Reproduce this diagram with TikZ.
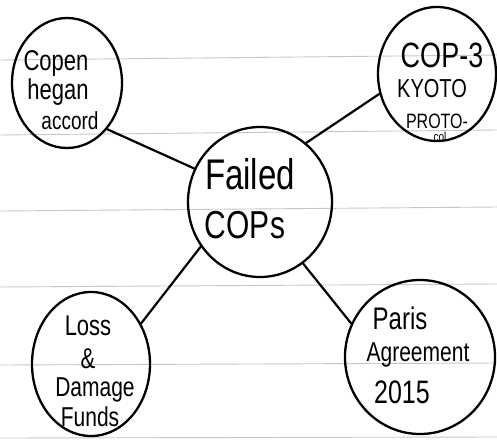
\documentclass[tikz,border=0pt]{standalone}
\usepackage{fontspec}
\setmainfont{Liberation Sans}
\usetikzlibrary{shapes.geometric}
\tikzset{
  bubble/.style={draw=black, line width=2.3pt, ellipse, inner sep=0pt},
  link/.style={draw=black, line width=2.2pt, line cap=round},
  rule/.style={draw=black!22, line width=0.9pt},
  hand/.style={inner sep=0pt, text=black},
}
\newcommand{\tall}[2]{\fontsize{#1}{#1}\selectfont\scalebox{1}[1.3]{#2}}
\begin{document}
\begin{tikzpicture}[x=1pt,y=-1pt]
\useasboundingbox[fill=white] (0,0) rectangle (497,439);
% ruled paper
\draw[rule] (0,60) -- (497,55);
\draw[rule] (0,135) -- (497,130);
\draw[rule] (0,211) -- (497,207);
\draw[rule] (0,287) -- (497,284);
\draw[rule] (0,365) -- (497,363);
\draw[rule] (0,438) -- (497,437);
% bubbles
\node[bubble, minimum width=110pt, minimum height=130pt] (cph) at (67,83) {};
\node[bubble, minimum width=118pt, minimum height=134pt] (kyoto) at (437,74) {};
\node[bubble, minimum width=144pt, minimum height=150pt] (cops) at (260,202) {};
\node[bubble, minimum width=118pt, minimum height=144pt] (loss) at (91,364) {};
\node[bubble, minimum width=150pt, minimum height=154pt] (paris) at (420,357) {};
% connectors
\draw[link] (cph.-49) -- (cops.153);
\draw[link] (kyoto.-161) -- (cops.52);
\draw[link] (loss.39) -- (cops.217);
\draw[link] (paris.154) -- (cops.-55);
% texts
\node[hand] (t1) at (56,63) {\tall{22}{Copen}};
\node[hand] (t2) at (58,92) {\tall{22}{hegan}};
\node[hand] (t3) at (70,121) {\tall{19}{accord}};
\node[hand] (t4) at (442,55) {\tall{27}{COP-3}};
\node[hand] (t5) at (432,89) {\tall{20}{KYOTO}};
\node[hand] (t6) at (437,121) {\tall{16}{PROTO-}};
\node[hand] (t7) at (440,137) {\tall{10}{col}};
\node[hand] (t8) at (250,174) {\tall{33}{Failed}};
\node[hand] (t9) at (245,225) {\tall{30}{COPs}};
\node[hand] (t10) at (88,326) {\tall{22}{Loss}};
\node[hand] (t11) at (88,359) {\tall{22}{\&}};
\node[hand] (t12) at (95,390) {\tall{21}{Damage}};
\node[hand] (t13) at (90,417) {\tall{21}{Funds}};
\node[hand] (t14) at (400,318) {\tall{24}{Paris}};
\node[hand] (t15) at (418,355) {\tall{21}{Agreement}};
\node[hand] (t16) at (402,392) {\tall{25}{2015}};
\end{tikzpicture}
\end{document}
